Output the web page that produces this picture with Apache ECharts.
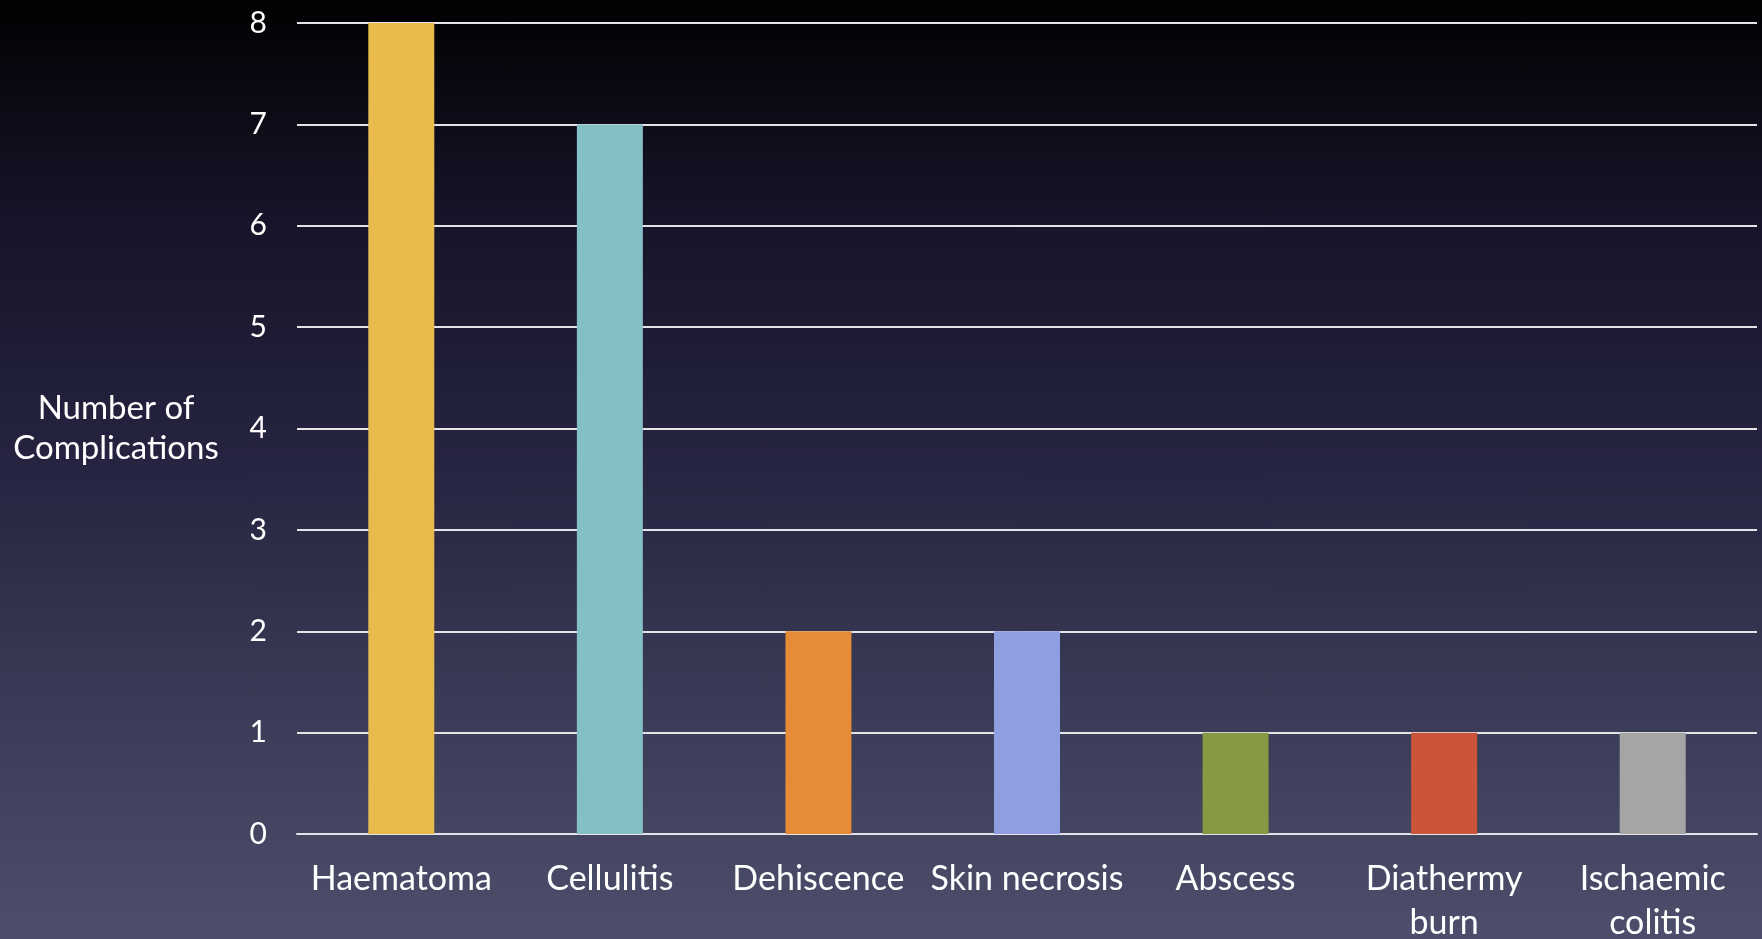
<!DOCTYPE html>
<html>
<head>
<meta charset="utf-8">
<title>Number of Complications</title>
<script src="https://cdn.jsdelivr.net/npm/echarts@6/dist/echarts.min.js"></script>
<style>
  html, body { margin: 0; padding: 0; }
  #chart {
    width: 1762px;
    height: 939px;
    background: linear-gradient(to bottom, #010102 0%, #141326 21%, #25233f 48%, #3a3b56 75%, #4c4e6b 100%);
  }
</style>
</head>
<body>
<div id="chart"></div>
<script>
// Complication types and how many times each occurred
const categories = ['Haematoma', 'Cellulitis', 'Dehiscence', 'Skin necrosis', 'Abscess', 'Diathermy\nburn', 'Ischaemic\ncolitis'];
const counts = [8, 7, 2, 2, 1, 1, 1];
const yTicks = [0, 1, 2, 3, 4, 5, 6, 7, 8];

// One fill colour per complication bar
const barColors = ['#e8bb4c', '#84bfc6', '#e68b36', '#8f9ee0', '#869a43', '#cb553a', '#a5a5a5'];

const FONT = 'Lato, "Open Sans", sans-serif';
const LINE = '#e4e4e8';

const chart = echarts.init(document.getElementById('chart'), null, { renderer: 'canvas' });

chart.setOption({
  backgroundColor: 'transparent',
  animation: false,
  grid: { left: 297, right: 5, top: 23, bottom: 105, containLabel: false, outerBoundsMode: 'none' },
  xAxis: {
    type: 'category',
    data: categories,
    axisLine: { show: true, lineStyle: { color: LINE, width: 2 } },
    axisTick: { show: false },
    axisLabel: {
      interval: 0,
      margin: 23,
      color: '#ffffff',
      fontFamily: FONT,
      fontSize: 34,
      lineHeight: 44,
      align: 'center'
    }
  },
  yAxis: {
    type: 'value',
    min: yTicks[0],
    max: yTicks[yTicks.length - 1],
    interval: 1,
    name: 'Number of\nComplications',
    nameLocation: 'middle',
    nameRotate: 0,
    nameGap: 181,
    nameTextStyle: {
      color: '#ffffff',
      fontFamily: FONT,
      fontSize: 33,
      lineHeight: 40,
      align: 'center',
      verticalAlign: 'middle',
      padding: [19, 0, 0, 0]
    },
    axisLine: { show: false },
    axisTick: { show: false },
    axisLabel: {
      margin: 30,
      color: '#ffffff',
      fontFamily: FONT,
      fontSize: 30
    },
    splitLine: { show: true, lineStyle: { color: LINE, width: 2 } }
  },
  series: [{
    type: 'bar',
    data: counts.map((v, i) => ({ value: v, itemStyle: { color: barColors[i] } })),
    barWidth: 66,
    z: 3
  }]
});
</script>
</body>
</html>
